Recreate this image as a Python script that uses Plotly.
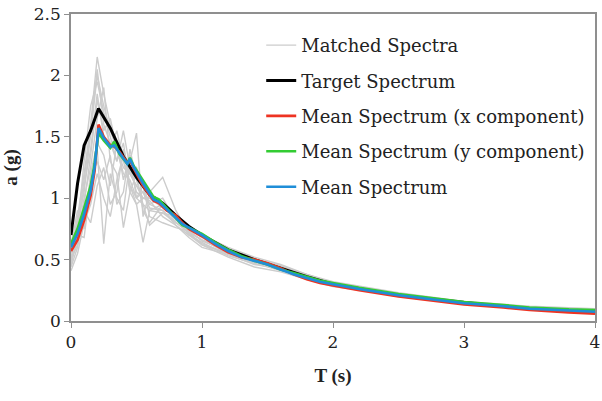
import plotly.graph_objects as go

# ---- data ----
T_mean = [0, 0.05, 0.1, 0.15, 0.18, 0.21, 0.25, 0.3, 0.33, 0.37, 0.43, 0.45, 0.48, 0.55, 0.63, 0.67, 0.73,
          0.8, 0.85, 0.9, 1.0, 1.1, 1.2, 1.3, 1.4, 1.5, 1.6, 1.7, 1.8, 1.9, 2.0, 2.2, 2.5, 2.8, 3.0, 3.3, 3.5, 3.8, 4.0]
mean_all = [0.60, 0.71, 0.87, 1.06, 1.25, 1.57, 1.49, 1.42, 1.43, 1.37, 1.28, 1.32, 1.25, 1.12, 0.99, 0.97, 0.91,
            0.84, 0.79, 0.76, 0.70, 0.63, 0.57, 0.52, 0.49, 0.46, 0.42, 0.38, 0.35, 0.32, 0.30, 0.26, 0.21, 0.17,
            0.145, 0.12, 0.10, 0.085, 0.075]
mean_x = [0.57, 0.66, 0.82, 1.02, 1.22, 1.60, 1.50, 1.43, 1.42, 1.38, 1.29, 1.31, 1.24, 1.10, 0.98, 0.96, 0.90,
          0.86, 0.80, 0.75, 0.69, 0.62, 0.56, 0.52, 0.50, 0.47, 0.43, 0.38, 0.34, 0.31, 0.29, 0.25, 0.20, 0.16,
          0.135, 0.11, 0.09, 0.07, 0.06]
mean_y = [0.63, 0.75, 0.92, 1.10, 1.28, 1.53, 1.47, 1.41, 1.46, 1.36, 1.28, 1.33, 1.26, 1.14, 1.01, 0.99, 0.92,
          0.83, 0.78, 0.76, 0.71, 0.64, 0.58, 0.53, 0.49, 0.46, 0.42, 0.39, 0.36, 0.33, 0.31, 0.27, 0.22, 0.18,
          0.155, 0.13, 0.11, 0.095, 0.09]

T_target = [0, 0.05, 0.1, 0.15, 0.21, 0.3, 0.4, 0.5, 0.6, 0.7, 0.8, 0.9, 1.0, 1.2, 1.4, 1.6, 1.8, 2.0, 2.5, 3.0, 3.5, 4.0]
target = [0.70, 1.12, 1.43, 1.55, 1.73, 1.57, 1.34, 1.17, 1.03, 0.96, 0.86, 0.77, 0.70, 0.58, 0.50, 0.43, 0.36,
          0.30, 0.21, 0.15, 0.10, 0.075]

T_matched = [0, 0.05, 0.1, 0.15, 0.2, 0.25, 0.3, 0.35, 0.4, 0.45, 0.5, 0.55, 0.6, 0.7, 0.8, 0.9, 1.0, 1.2, 1.4,
             1.6, 1.8, 2.0, 2.5, 3.0, 3.5, 4.0]
matched_1 = [0.55, 0.85, 1.20, 1.60, 2.15, 1.85, 1.60, 1.45, 1.35, 1.20, 1.10, 1.05, 0.95, 0.90, 0.80, 0.72, 0.66, 0.55, 0.48, 0.43, 0.37, 0.30, 0.21, 0.15, 0.11, 0.08]
matched_2 = [0.60, 0.75, 1.30, 1.75, 1.95, 1.70, 1.50, 1.30, 1.55, 1.25, 1.05, 1.00, 1.00, 0.92, 0.85, 0.75, 0.68, 0.58, 0.50, 0.45, 0.36, 0.31, 0.22, 0.16, 0.11, 0.09]
matched_3 = [0.45, 0.70, 0.68, 1.10, 1.40, 0.63, 1.20, 1.00, 0.90, 1.30, 1.53, 0.85, 1.05, 1.17, 0.90, 0.72, 0.62, 0.55, 0.47, 0.42, 0.35, 0.29, 0.20, 0.14, 0.10, 0.07]
matched_4 = [0.50, 0.62, 0.95, 1.35, 1.80, 1.55, 1.65, 1.40, 1.20, 1.15, 1.00, 0.95, 0.90, 0.95, 0.80, 0.74, 0.65, 0.57, 0.49, 0.44, 0.38, 0.31, 0.22, 0.15, 0.10, 0.08]
matched_5 = [0.41, 0.55, 0.80, 0.95, 1.20, 1.00, 0.85, 1.15, 1.35, 1.05, 0.95, 0.64, 0.90, 0.88, 0.85, 0.78, 0.70, 0.56, 0.50, 0.42, 0.35, 0.30, 0.21, 0.14, 0.10, 0.07]
matched_6 = [0.58, 0.80, 1.05, 1.50, 2.00, 1.75, 1.55, 1.40, 1.25, 1.20, 1.10, 1.00, 0.98, 0.85, 0.78, 0.70, 0.64, 0.53, 0.47, 0.41, 0.36, 0.29, 0.20, 0.14, 0.10, 0.07]
matched_7 = [0.62, 0.90, 0.75, 1.20, 1.45, 1.35, 1.10, 1.45, 1.15, 1.35, 1.00, 1.10, 0.95, 1.00, 0.82, 0.76, 0.70, 0.60, 0.52, 0.46, 0.38, 0.32, 0.23, 0.16, 0.12, 0.10]
matched_8 = [0.48, 0.68, 1.00, 1.25, 1.65, 1.90, 1.30, 1.20, 0.76, 1.05, 1.20, 0.90, 0.80, 0.95, 0.85, 0.70, 0.62, 0.52, 0.44, 0.40, 0.34, 0.28, 0.21, 0.15, 0.10, 0.08]
matched_9 = [0.52, 0.72, 1.10, 1.40, 1.85, 1.50, 1.40, 1.55, 1.30, 1.10, 1.00, 1.05, 0.92, 0.90, 0.78, 0.68, 0.60, 0.54, 0.46, 0.43, 0.37, 0.30, 0.22, 0.15, 0.11, 0.09]
matched_10 = [0.44, 0.60, 0.90, 0.80, 1.10, 1.25, 0.95, 1.05, 1.40, 1.20, 1.25, 1.10, 0.85, 0.80, 0.76, 0.73, 0.66, 0.59, 0.51, 0.45, 0.38, 0.31, 0.22, 0.16, 0.11, 0.08]
matched_11 = [0.56, 0.78, 1.15, 1.55, 2.05, 1.60, 1.45, 1.30, 1.45, 1.10, 0.95, 1.00, 1.00, 0.93, 0.83, 0.71, 0.63, 0.55, 0.48, 0.42, 0.36, 0.29, 0.21, 0.15, 0.10, 0.08]
matched_12 = [0.50, 0.66, 0.85, 1.15, 1.30, 1.15, 1.35, 0.95, 1.05, 1.40, 1.15, 0.95, 0.78, 0.88, 0.80, 0.77, 0.68, 0.58, 0.50, 0.44, 0.37, 0.30, 0.21, 0.15, 0.11, 0.09]
matched = [matched_1, matched_2, matched_3, matched_4, matched_5, matched_6, matched_7, matched_8,
           matched_9, matched_10, matched_11, matched_12]

x_ticks = [0, 1, 2, 3, 4]
y_ticks = [0, 0.5, 1, 1.5, 2, 2.5]
y_tick_labels = ["0", "0.5", "1", "1.5", "2", "2.5"]

# ---- figure ----
FONT = "DejaVu Serif, serif"
BOLD_FONT = "Liberation Serif, Times New Roman, serif"
fig = go.Figure()

for i, m in enumerate(matched):
    fig.add_trace(go.Scatter(x=T_matched, y=m, mode="lines", name="Matched Spectra",
                             line=dict(color="#cccccc", width=1.4),
                             legendgroup="matched", showlegend=(i == 0)))

fig.add_trace(go.Scatter(x=T_target, y=target, mode="lines", name="Target Spectrum",
                         line=dict(color="#000000", width=3), legendgroup="target"))
fig.add_trace(go.Scatter(x=T_mean, y=mean_x, mode="lines", name="Mean Spectrum (x component)",
                         line=dict(color="#ee3322", width=2.6), legendgroup="mx"))
fig.add_trace(go.Scatter(x=T_mean, y=mean_y, mode="lines", name="Mean Spectrum (y component)",
                         line=dict(color="#33cc33", width=2.6), legendgroup="my"))
fig.add_trace(go.Scatter(x=T_mean, y=mean_all, mode="lines", name="Mean Spectrum",
                         line=dict(color="#1f8ed8", width=2.6), legendgroup="mean"))

fig.update_layout(
    width=602, height=401,
    margin=dict(l=71, r=7, t=14, b=80, autoexpand=False),
    paper_bgcolor="white", plot_bgcolor="white",
    font=dict(family=FONT, size=17, color="#222222"),
    showlegend=True,
    legend=dict(x=0.363, y=0.958, xanchor="left", yanchor="top",
                bgcolor="rgba(255,255,255,0)", borderwidth=0,
                font=dict(family=FONT, size=18, color="#222222"),
                traceorder="grouped", tracegroupgap=9, itemwidth=30),
    xaxis=dict(range=[0, 4], tickvals=x_ticks, ticktext=[str(v) for v in x_ticks],
               showgrid=False, zeroline=False, showline=True, linecolor="#8f8f8f", linewidth=1.5,
               mirror=True, ticks="outside", ticklen=5, tickcolor="#8f8f8f", automargin=False,
               tickfont=dict(family=FONT, size=17, color="#222222"),
               title=dict(text="<b>T (s)</b>", font=dict(family=BOLD_FONT, size=19, color="#222222"), standoff=18)),
    yaxis=dict(range=[0, 2.5], tickvals=y_ticks, ticktext=y_tick_labels,
               showgrid=False, zeroline=False, showline=True, linecolor="#8f8f8f", linewidth=1.5,
               mirror=True, ticks="outside", ticklen=5, tickcolor="#8f8f8f", automargin=False,
               tickfont=dict(family=FONT, size=17, color="#222222"),
               title=dict(text="<b>a (g)</b>", font=dict(family=BOLD_FONT, size=19, color="#222222"), standoff=12)),
)

fig.write_html("out.html")
